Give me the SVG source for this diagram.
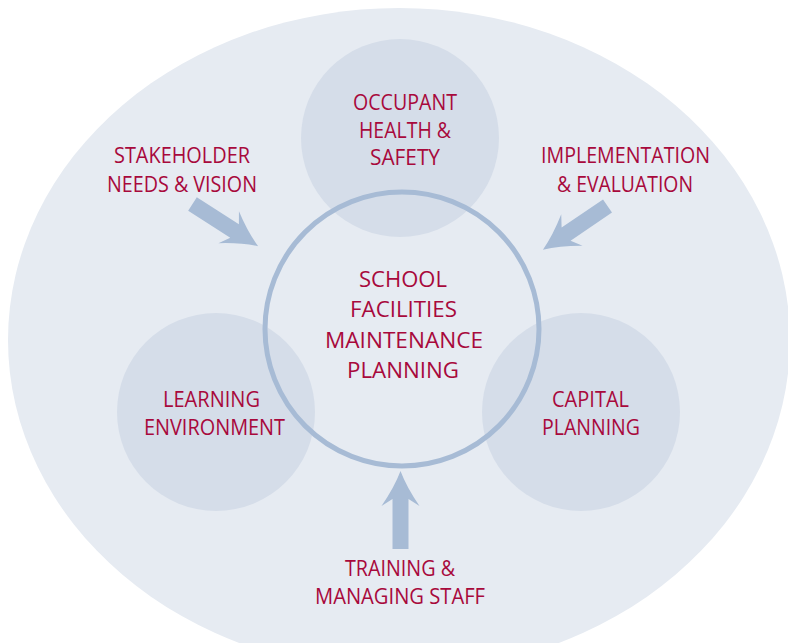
<svg xmlns="http://www.w3.org/2000/svg" xmlns:xlink="http://www.w3.org/1999/xlink" width="788" height="643" viewBox="0 0 788 643">
<style>
.lbl{font-family:"Open Sans","Noto Sans","Liberation Sans",sans-serif;font-size:21px;fill:#a8093c;text-anchor:middle}
.big{font-size:22px}
.sat{fill:#d5dde9}
.arrow{fill:#a7bbd5}
</style>
<defs>
<path id="arr" d="M0,-8 L50,-8 L43,-19 Q62,-6 78,0 Q62,6 43,19 L50,8 L0,8 Z"/>
</defs>
<rect width="788" height="643" fill="#ffffff"/>
<g id="context">
<ellipse cx="399" cy="340" rx="391" ry="332" fill="#e6ebf2"/>
</g>
<g id="occupant">
<circle class="sat" cx="400" cy="138" r="99"/>
<text class="lbl" x="405" y="110" textLength="104" lengthAdjust="spacingAndGlyphs">OCCUPANT</text>
<text class="lbl" x="405" y="138" textLength="92" lengthAdjust="spacingAndGlyphs">HEALTH &amp;</text>
<text class="lbl" x="405" y="165" textLength="70" lengthAdjust="spacingAndGlyphs">SAFETY</text>
</g>
<g id="learning">
<circle class="sat" cx="216" cy="412" r="99"/>
<text class="lbl" x="211.5" y="407" textLength="97" lengthAdjust="spacingAndGlyphs">LEARNING</text>
<text class="lbl" x="214.5" y="435" textLength="141" lengthAdjust="spacingAndGlyphs">ENVIRONMENT</text>
</g>
<g id="capital">
<circle class="sat" cx="581" cy="412" r="99"/>
<text class="lbl" x="590.5" y="407" textLength="77" lengthAdjust="spacingAndGlyphs">CAPITAL</text>
<text class="lbl" x="591" y="435" textLength="98" lengthAdjust="spacingAndGlyphs">PLANNING</text>
</g>
<g id="center">
<circle cx="402" cy="329" r="137" fill="none" stroke="#a7bbd5" stroke-width="5"/>
<text class="lbl big" x="403" y="287" textLength="88" lengthAdjust="spacingAndGlyphs">SCHOOL</text>
<text class="lbl big" x="403.5" y="317" textLength="107" lengthAdjust="spacingAndGlyphs">FACILITIES</text>
<text class="lbl big" x="404" y="348" textLength="158" lengthAdjust="spacingAndGlyphs">MAINTENANCE</text>
<text class="lbl big" x="403" y="378" textLength="112" lengthAdjust="spacingAndGlyphs">PLANNING</text>
</g>
<g id="stakeholder">
<text class="lbl" x="182" y="163" textLength="136" lengthAdjust="spacingAndGlyphs">STAKEHOLDER</text>
<text class="lbl" x="182" y="192" textLength="150" lengthAdjust="spacingAndGlyphs">NEEDS &amp; VISION</text>
</g>
<g id="implementation">
<text class="lbl" x="625.5" y="163" textLength="169" lengthAdjust="spacingAndGlyphs">IMPLEMENTATION</text>
<text class="lbl" x="625" y="192" textLength="136" lengthAdjust="spacingAndGlyphs">&amp; EVALUATION</text>
</g>
<g id="training">
<text class="lbl" x="400" y="576" textLength="110" lengthAdjust="spacingAndGlyphs">TRAINING &amp;</text>
<text class="lbl" x="400" y="604" textLength="170" lengthAdjust="spacingAndGlyphs">MANAGING STAFF</text>
</g>
<g id="connectors" class="arrow">
<use xlink:href="#arr" href="#arr" transform="translate(192.5,204) rotate(32.7)"/>
<use xlink:href="#arr" href="#arr" transform="translate(607.5,206) rotate(145.9)"/>
<use xlink:href="#arr" href="#arr" transform="translate(400.5,549) rotate(-90)"/>
</g>
</svg>
